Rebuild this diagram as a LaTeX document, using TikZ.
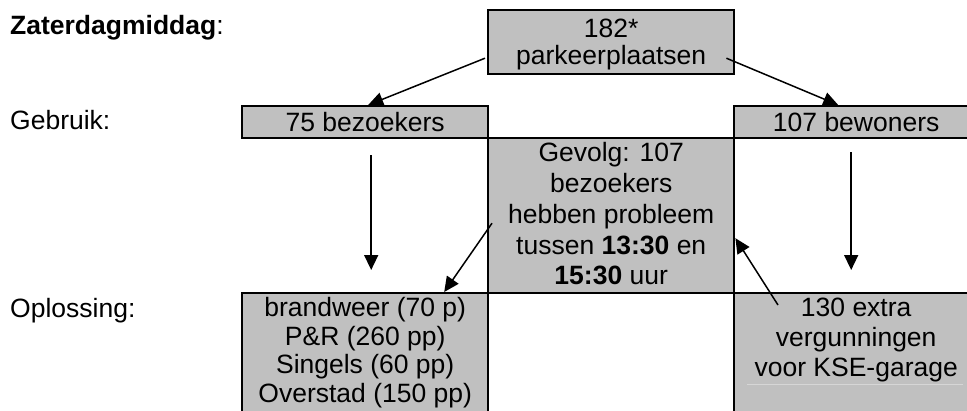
\documentclass[tikz,border=0pt]{standalone}
\usepackage{fontspec}
\setmainfont{Liberation Sans}
\usetikzlibrary{arrows.meta,calc}
\definecolor{cellgray}{RGB}{192,192,192}
\definecolor{faintline}{RGB}{214,214,214}

\begin{document}
\begin{tikzpicture}[x=1pt,y=-1pt,
  cell/.style={draw=black, line width=2.4pt, fill=cellgray, inner sep=0pt,
               anchor=north west},
  lbl/.style={anchor=base west, inner sep=0pt,
              font=\fontsize{26.5}{30}\selectfont},
  txt/.style={inner sep=0pt, align=center,
              font=\fontsize{26.5}{#1}\selectfont},
  txt/.default=30,
  arr/.style={line width=1.5pt, -{Triangle[length=15pt,width=14pt]}}
]
\useasboundingbox (0,0) rectangle (967,410);
\clip (0,0) rectangle (967,410);

% row labels
\node[lbl] (lday) at (10,34) {\textbf{Zaterdagmiddag}:};
\node[lbl] (luse) at (10,129) {Gebruik:};
\node[lbl] (lsol) at (10,317) {Oplossing:};

% table cells
\node[cell, minimum width=246pt, minimum height=64pt]  (total) at (487,9) {};
\node[cell, minimum width=246pt, minimum height=32pt]  (bez)   at (241,105) {};
\node[cell, minimum width=244pt, minimum height=32pt]  (bew)   at (733,105) {};
\node[cell, minimum width=246pt, minimum height=155pt] (gev)   at (487,137) {};
\node[cell, minimum width=246pt, minimum height=150pt] (opl)   at (241,292) {};
\node[cell, minimum width=244pt, minimum height=150pt] (ext)   at (733,292) {};

% cell texts
\node[txt=27.5, anchor=north] (ttotal) at ($(total.north)+(0,9.5)$)
  {182*\\parkeerplaatsen};
\node[txt, anchor=base] (tbez) at ($(bez.south)+(0,-8)$) {75 bezoekers};
\node[txt, anchor=base] (tbew) at ($(bew.south)+(0,-8)$) {107 bewoners};
\node[txt=30.75, anchor=north] (tgev) at ($(gev.north)+(0,5.5)$)
  {Gevolg: 107\\bezoekers\\hebben probleem\\tussen \textbf{13:30} en\\\textbf{15:30} uur};
\node[txt=28.5, anchor=north] (topl) at ($(opl.north)+(0,5.5)$)
  {brandweer (70 p)\\P\&R (260 pp)\\Singels (60 pp)\\Overstad (150 pp)};
\node[txt=30, anchor=north] (text) at ($(ext.north)+(0,5.5)$)
  {130 extra\\vergunningen\\voor KSE-garage};
\draw[faintline, line width=0.8pt] ($(ext.north west)+(14,92)$) -- ($(ext.north west)+(230,92)$);

% connectors
\draw[arr] ($(total.west)+(-2,16)$) -- ($(bez.north)+(3,0)$);
\draw[arr] ($(total.east)+(-9,16)$) -- ($(bew.north)+(-18,0)$);
\draw[arr] ($(bez.south)+(6,16)$) -- ($(opl.north)+(6,-22)$);
\draw[arr] ($(bew.south)+(-5,13)$) -- ($(ext.north)+(-5,-22)$);
\draw[arr] ($(gev.west)+(5,7.5)$) -- ($(opl.north)+(79,0)$);
\draw[arr] ($(ext.north west)+(45,13)$) -- ($(gev.east)+(0,22.5)$);
\end{tikzpicture}
\end{document}
